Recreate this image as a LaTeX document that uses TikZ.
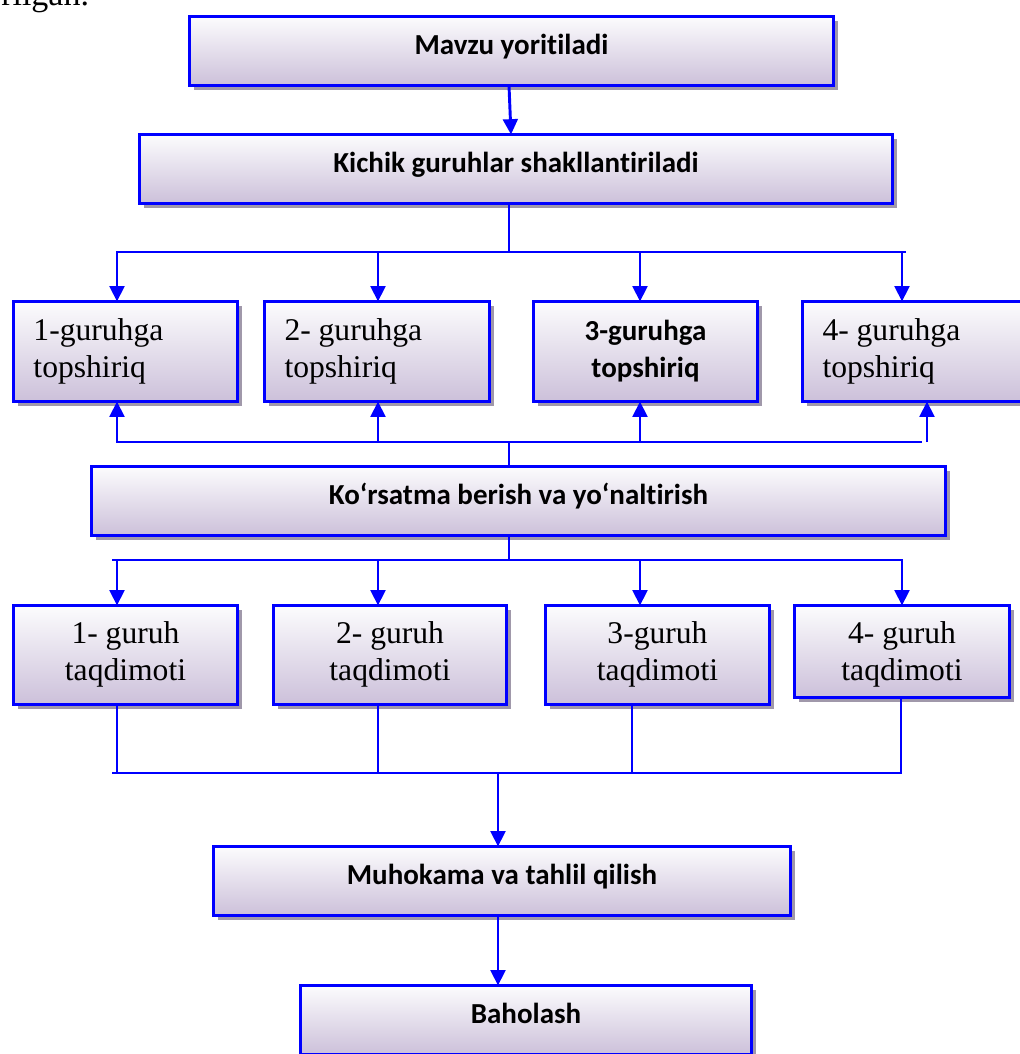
\documentclass[tikz,border=0pt]{standalone}
\usepackage{fontspec}
\setmainfont{Liberation Serif}
\newfontfamily\calfont{Carlito}[Ligatures={NoCommon}]
\usetikzlibrary{arrows.meta,shadows}
\newdimen\PX \PX=0.75pt
\definecolor{bblue}{RGB}{0,0,255}
\definecolor{lav}{RGB}{204,192,218}
\definecolor{topc}{RGB}{252,252,253}
\definecolor{shadc}{RGB}{160,152,170}
\newcommand\bxc[4]{\parbox[c][#2\PX][t]{#1\PX}{\centering\rule{0pt}{#3\PX}#4}}
\newcommand\bxl[4]{\parbox[c][#2\PX][t]{#1\PX}{\raggedright\leftskip=20\PX\relax\rule{0pt}{#3\PX}#4}}
\tikzset{
 box/.style={draw=bblue, line width=2.6pt, inner sep=0pt, outer sep=0pt,
   top color=topc, bottom color=lav,
   drop shadow={shadow xshift=3pt, shadow yshift=-3pt, fill=shadc, opacity=1}},
 bfs/.style={font=\calfont\bfseries\fontsize{21.75pt}{27.75pt}\selectfont},
 srf/.style={font=\fontsize{23.7pt}{27.75pt}\selectfont},
 conn/.style={draw=bblue, line width=2.2pt, line cap=rect},
 arr/.style={draw=bblue, line width=2.2pt, -{Triangle[width=11pt,length=11.5pt]}},
}
\begin{document}
\begin{tikzpicture}[x=0.75pt,y=-0.75pt]
\useasboundingbox (0,0) rectangle (1020,1054);
\clip (0,0) rectangle (1020,1054);
\node[anchor=base west, inner sep=0pt, font=\fontsize{25.5pt}{30pt}\selectfont] (frag) at (1,5) {rilgan.};
% boxes
\node[box,bfs] (a) at (511.5,51) {\bxc{644}{69}{37.5}{Mavzu yoritiladi}};
\node[box,bfs] (b) at (516,169) {\bxc{753}{69}{37.5}{Kichik guruhlar shakllantiriladi}};
\node[box,srf] (r1a) at (125.5,351.5) {\bxl{224}{100}{38.5}{1-guruhga\\topshiriq}};
\node[box,srf] (r1b) at (377,351.5) {\bxl{225}{100}{38.5}{2- guruhga\\topshiriq}};
\node[box,bfs] (r1c) at (645.5,351.5) {\bxc{224}{100}{38.5}{3-guruhga\\topshiriq}};
\node[box,srf] (r1d) at (915.5,351.5) {\bxl{226}{100}{38.5}{4- guruhga\\topshiriq}};
\node[box,bfs] (c) at (518.5,501) {\bxc{854}{69}{37.5}{Ko‘rsatma berish va yo‘naltirish}};
\node[box,srf] (r2a) at (125.5,655) {\bxc{224}{99}{37.5}{1- guruh\\taqdimoti}};
\node[box,srf] (r2b) at (390,655) {\bxc{233}{99}{37.5}{2- guruh\\taqdimoti}};
\node[box,srf] (r2c) at (657.5,655) {\bxc{224}{99}{37.5}{3-guruh\\taqdimoti}};
\node[box,srf] (r2d) at (902,651.5) {\bxc{215}{92}{37.5}{4- guruh\\taqdimoti}};
\node[box,bfs] (d) at (502,881) {\bxc{577}{69}{37.5}{Muhokama va tahlil qilish}};
\node[box,bfs] (e) at (526,1020) {\bxc{451}{69}{37.5}{Baholash}};
% columns and buses
\coordinate (ua) at (117,0);
\coordinate (ub) at (378,0);
\coordinate (uc) at (640,0);
\coordinate (ud) at (902,0);
\coordinate (ue) at (927,0);
\coordinate (vc) at (632,0);
\coordinate (vd) at (901,0);
\coordinate (trunk) at (509,0);
\coordinate (dx) at (498,0);
\coordinate (bus1) at (0,252);
\coordinate (bus2) at (0,442);
\coordinate (bus3) at (0,560);
\coordinate (bus4) at (0,773);
\coordinate (bus1end) at (905,252);
\coordinate (bus2end) at (921,442);
\coordinate (bus3beg) at (113,560);
\coordinate (bus4beg) at (113,773);
% A -> B
\draw[arr] (a.south -| trunk) -- ([xshift=1.5pt]b.north -| trunk);
% B -> row 1
\draw[conn] (b.south -| trunk) -- (trunk |- bus1);
\draw[conn] (ua |- bus1) -- (bus1end);
\foreach \u/\n in {ua/r1a, ub/r1b, uc/r1c, ud/r1d}
  \draw[arr] (\u |- bus1) -- (\u |- \n.north);
% C -> row 1 (upwards)
\draw[conn] (c.north -| trunk) -- (trunk |- bus2);
\draw[conn] (ua |- bus2) -- (bus2end);
\foreach \u/\n in {ua/r1a, ub/r1b, uc/r1c, ue/r1d}
  \draw[arr] (\u |- bus2) -- (\u |- \n.south);
% C -> row 2
\draw[conn] (c.south -| trunk) -- (trunk |- bus3);
\draw[conn] (bus3beg) -- (ud |- bus3);
\foreach \u/\n in {ua/r2a, ub/r2b, uc/r2c, ud/r2d}
  \draw[arr] (\u |- bus3) -- (\u |- \n.north);
% row 2 -> D
\foreach \u/\n in {ua/r2a, ub/r2b, vc/r2c, vd/r2d}
  \draw[conn] (\u |- \n.south) -- (\u |- bus4);
\draw[conn] (bus4beg) -- (vd |- bus4);
\draw[arr] (dx |- bus4) -- (dx |- d.north);
% D -> E
\draw[arr] (d.south -| dx) -- (dx |- e.north);
\end{tikzpicture}
\end{document}
